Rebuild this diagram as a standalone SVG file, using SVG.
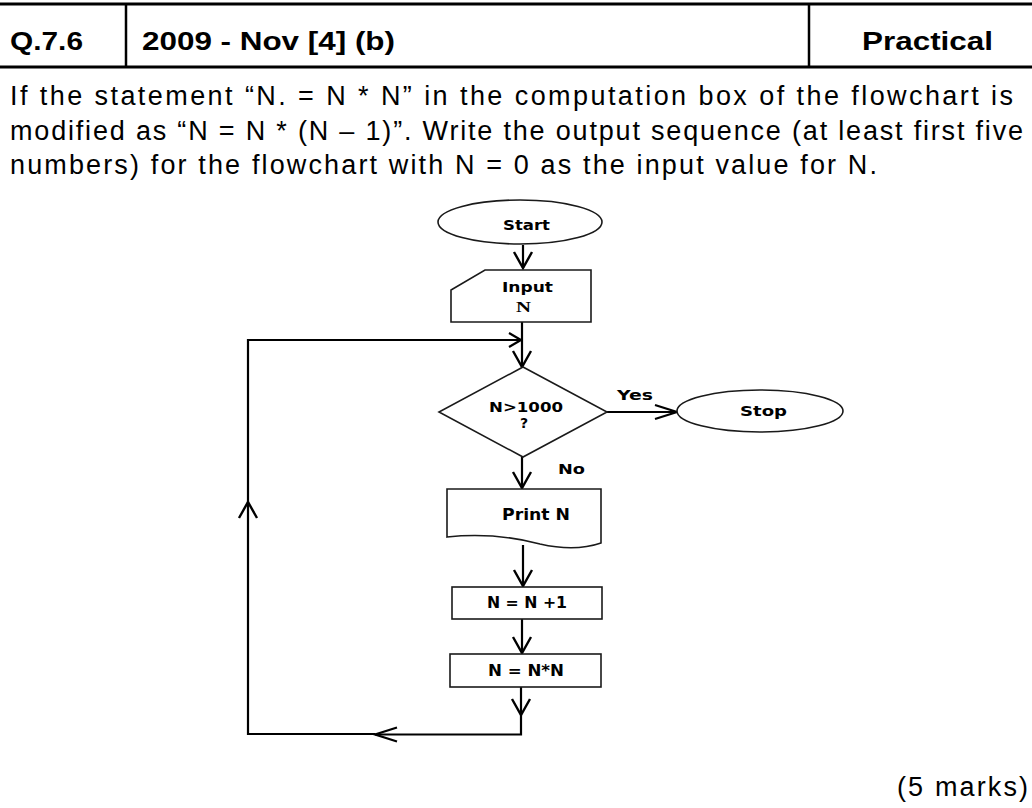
<svg xmlns="http://www.w3.org/2000/svg" width="1032" height="808" viewBox="0 0 1032 808">
<style>
.hdr{font-family:"Liberation Sans",Arial,sans-serif;font-weight:bold;font-size:26px;fill:#000}
.body{font-family:"Liberation Sans",Arial,sans-serif;font-size:27px;fill:#000}
.lbl{font-family:"DejaVu Sans","Liberation Sans",sans-serif;font-weight:bold;font-size:14px;fill:#000}
.lbl16{font-family:"DejaVu Sans","Liberation Sans",sans-serif;font-weight:bold;font-size:15px;fill:#000}
.serif{font-family:"Liberation Serif","Times New Roman",serif;font-weight:bold;font-size:15px;fill:#000}
.shape{fill:#fff;stroke:#1a1a1a;stroke-width:1.6}
.conn{fill:none;stroke:#000;stroke-width:2.2}
.rule{stroke:#000}
</style>
<defs>
<marker id="ah" viewBox="-18 -11 20 22" refX="0" refY="0" markerWidth="20" markerHeight="22" markerUnits="userSpaceOnUse" orient="auto" overflow="visible">
<path d="M-16,-9 L0,0 L-16,9" fill="none" stroke="#000" stroke-width="2.4"/>
</marker>
<marker id="ahL" viewBox="-24 -9 26 18" refX="0" refY="0" markerWidth="26" markerHeight="18" markerUnits="userSpaceOnUse" orient="auto" overflow="visible">
<path d="M-22,-7 L0,0 L-22,7" fill="none" stroke="#000" stroke-width="2.2"/>
</marker>
<marker id="ahS" viewBox="-14 -9 16 18" refX="0" refY="0" markerWidth="16" markerHeight="18" markerUnits="userSpaceOnUse" orient="auto" overflow="visible">
<path d="M-12,-7 L0,0 L-12,7" fill="none" stroke="#000" stroke-width="2.2"/>
</marker>
</defs>
<rect width="1032" height="808" fill="#fff"/>

<g id="header">
<line class="rule" x1="0" y1="4" x2="1032" y2="4" stroke-width="3.2"/>
<line class="rule" x1="0" y1="67" x2="1032" y2="67" stroke-width="3.2"/>
<line class="rule" x1="126" y1="4" x2="126" y2="67" stroke-width="2.5"/>
<line class="rule" x1="809" y1="4" x2="809" y2="67" stroke-width="2.5"/>
<text class="hdr" x="10" y="50" textLength="73" lengthAdjust="spacingAndGlyphs">Q.7.6</text>
<text class="hdr" x="142" y="50" textLength="253" lengthAdjust="spacingAndGlyphs">2009 - Nov [4] (b)</text>
<text class="hdr" x="862" y="50" textLength="131" lengthAdjust="spacingAndGlyphs">Practical</text>
</g>

<g id="question">
<text class="body" x="10" y="105" textLength="1003" lengthAdjust="spacing">If the statement “N. = N * N” in the computation box of the flowchart is</text>
<text class="body" x="10" y="140" textLength="1013" lengthAdjust="spacing">modified as “N = N * (N – 1)”. Write the output sequence (at least first five</text>
<text class="body" x="10" y="174" textLength="867" lengthAdjust="spacing">numbers) for the flowchart with N = 0 as the input value for N.</text>
</g>

<g id="connectors">
<path class="conn" d="M523,245 V268" marker-end="url(#ah)"/>
<path class="conn" d="M522,322 V367" marker-end="url(#ah)"/>
<path class="conn" d="M607,412 H677" stroke-width="1.6" marker-end="url(#ahL)"/>
<path class="conn" d="M522,457 V488" marker-end="url(#ah)"/>
<path class="conn" d="M523,545 V586" marker-end="url(#ah)"/>
<path class="conn" d="M522,619 V653" marker-end="url(#ah)"/>
<path class="conn" d="M521,687 V715" marker-end="url(#ah)"/>
<path class="conn" d="M521,715 V734.5 H375" marker-end="url(#ahL)"/>
<path class="conn" d="M375,734 H248 V502" marker-end="url(#ah)"/>
<path class="conn" d="M248,502 V340 H521" marker-end="url(#ahS)"/>
</g>

<g id="start">
<ellipse class="shape" cx="520" cy="222" rx="82" ry="22"/>
<text class="lbl" x="503" y="230" textLength="47" lengthAdjust="spacingAndGlyphs">Start</text>
</g>

<g id="input">
<path class="shape" d="M451,322 V290 L485,270 H591 V322 Z"/>
<text class="lbl" x="502" y="292" textLength="51" lengthAdjust="spacingAndGlyphs">Input</text>
<text class="serif" x="516" y="312" textLength="15" lengthAdjust="spacingAndGlyphs">N</text>
</g>

<g id="decision">
<polygon class="shape" points="523,367 607,412 523,457 439,412"/>
<text class="lbl" x="489" y="412" textLength="74" lengthAdjust="spacingAndGlyphs">N&gt;1000</text>
<text class="lbl" x="520" y="428">?</text>
</g>

<g id="stop">
<ellipse class="shape" cx="760" cy="411" rx="83" ry="21"/>
<text class="lbl" x="740" y="416" textLength="47" lengthAdjust="spacingAndGlyphs">Stop</text>
</g>

<g id="edge-labels">
<text class="lbl" x="617" y="400" textLength="36" lengthAdjust="spacingAndGlyphs">Yes</text>
<text class="lbl" x="558" y="474" textLength="27" lengthAdjust="spacingAndGlyphs">No</text>
</g>

<g id="print">
<path class="shape" d="M447,489 H601 V543 Q575,552 540,544 Q495,532 447,537 Z"/>
<text class="lbl16" x="502" y="520" textLength="68" lengthAdjust="spacingAndGlyphs">Print N</text>
</g>

<g id="increment">
<rect class="shape" x="452" y="587" width="150" height="32"/>
<text class="lbl16" x="487" y="608" textLength="80" lengthAdjust="spacingAndGlyphs">N = N +1</text>
</g>

<g id="square">
<rect class="shape" x="450" y="654" width="151" height="33"/>
<text class="lbl16" x="488" y="676" textLength="76" lengthAdjust="spacingAndGlyphs">N = N*N</text>
</g>

<g id="marks">
<text class="body" x="897" y="796" font-size="26" textLength="131" lengthAdjust="spacing">(5 marks)</text>
</g>
</svg>
